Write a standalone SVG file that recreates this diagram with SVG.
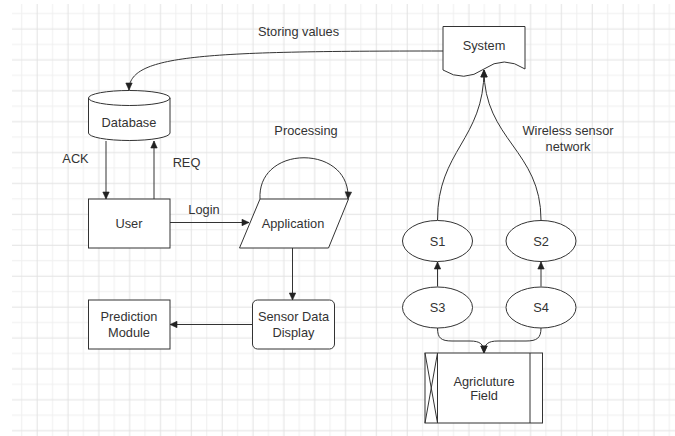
<svg xmlns="http://www.w3.org/2000/svg" width="675" height="436" viewBox="0 0 675 436">
  <defs>
    <!-- background grid: light minor lines, slightly darker every second line -->
    <pattern id="grid" patternUnits="userSpaceOnUse" x="13.99" y="5.775" width="30.84" height="30.9">
      <path d="M7.71,0 V30.9 M0,7.725 H30.84" stroke="#efefef" stroke-width="1" fill="none"/>
      <path d="M23.13,0 V30.9 M0,23.175 H30.84" stroke="#e2e2e2" stroke-width="1" fill="none"/>
    </pattern>
    <marker id="arrow" markerUnits="userSpaceOnUse" markerWidth="10" markerHeight="10" viewBox="0 0 10 10" refX="8" refY="5" orient="auto">
      <path d="M1,1.8 L8,5 L1,8.2 Z" fill="#222" stroke="#222" stroke-width="0.6"/>
    </marker>
  </defs>
  <style>
    .shape { fill: #ffffff; stroke: #333333; stroke-width: 1; }
    .edge { fill: none; stroke: #333333; stroke-width: 1; }
    text { font-family: "Liberation Sans", Arial, sans-serif; font-size: 12.8px; fill: #333333; text-anchor: middle; dominant-baseline: central; }
  </style>

  <rect x="0" y="0" width="675" height="436" fill="#ffffff"/>
  <rect x="12" y="4" width="663" height="432" fill="url(#grid)"/>

  <g id="connectors">
    <!-- System -> Database -->
    <path class="edge" d="M443,51 C200,51 129,55 129,90" marker-end="url(#arrow)"/>
    <!-- Database -> User (ACK) -->
    <path class="edge" d="M106,141 V199" marker-end="url(#arrow)"/>
    <!-- User -> Database (REQ) -->
    <path class="edge" d="M154,199 V141" marker-end="url(#arrow)"/>
    <!-- User -> Application (Login) -->
    <path class="edge" d="M170,222.5 H249" marker-end="url(#arrow)"/>
    <!-- Application processing loop -->
    <path class="edge" d="M260,199 C257,144 351,144 348,199" marker-end="url(#arrow)"/>
    <!-- Application -> Sensor Data Display -->
    <path class="edge" d="M292.5,248 V300" marker-end="url(#arrow)"/>
    <!-- Sensor Data Display -> Prediction Module -->
    <path class="edge" d="M252,324.5 H170" marker-end="url(#arrow)"/>
    <!-- S1 / S2 -> System (wireless sensor network) -->
    <path class="edge" d="M437.5,220 C437.5,150 484,140 484,70" marker-end="url(#arrow)"/>
    <path class="edge" d="M541,220 C541,150 484,140 484,70" marker-end="url(#arrow)"/>
    <!-- S3 -> S1, S4 -> S2 -->
    <path class="edge" d="M437.5,286.5 V262" marker-end="url(#arrow)"/>
    <path class="edge" d="M541,286.5 V262" marker-end="url(#arrow)"/>
    <!-- S3 / S4 -> Agriculture Field -->
    <path class="edge" d="M437.5,328 C437.5,338 441,341 452,341 L470,341 C480,341 484,344 484,353" marker-end="url(#arrow)"/>
    <path class="edge" d="M541,328 C541,338 537,341 526,341 L498,341 C488,341 484,344 484,353" marker-end="url(#arrow)"/>
  </g>

  <g id="labels">
    <text x="298.5" y="31.5">Storing values</text>
    <text x="306" y="130">Processing</text>
    <text x="75.5" y="158">ACK</text>
    <text x="186.5" y="162">REQ</text>
    <text x="204" y="209">Login</text>
    <text x="568" y="130">Wireless sensor</text>
    <text x="568" y="146">network</text>
  </g>

  <g id="system">
    <path class="shape" d="M443,26.5 H525 V69 Q504,55 484,69 Q464,83 443,70 Z"/>
    <text x="484" y="45">System</text>
  </g>

  <g id="database">
    <path class="shape" d="M88.5,98 A40.75,7.5 0 0 1 170,98 V133 A40.75,7.5 0 0 1 88.5,133 Z"/>
    <path class="edge" d="M88.5,98 A40.75,7.5 0 0 0 170,98"/>
    <text x="129" y="122">Database</text>
  </g>

  <g id="user">
    <rect class="shape" x="88.5" y="199" width="81.5" height="49"/>
    <text x="129" y="223">User</text>
  </g>

  <g id="application">
    <path class="shape" d="M260,199 H348.5 L328.5,248 H239.5 Z"/>
    <text x="293" y="223">Application</text>
  </g>

  <g id="sensor-data-display">
    <rect class="shape" x="252.5" y="300" width="82" height="49" rx="5" ry="5"/>
    <text x="293.5" y="316.5">Sensor Data</text>
    <text x="293.5" y="332.5">Display</text>
  </g>

  <g id="prediction-module">
    <rect class="shape" x="88.5" y="300" width="81.5" height="49"/>
    <text x="129" y="316.5">Prediction</text>
    <text x="129" y="332.5">Module</text>
  </g>

  <g id="s1">
    <ellipse class="shape" cx="437.5" cy="241" rx="35" ry="20.5"/>
    <text x="437.5" y="241">S1</text>
  </g>
  <g id="s2">
    <ellipse class="shape" cx="541" cy="241" rx="35" ry="20.5"/>
    <text x="541" y="241">S2</text>
  </g>
  <g id="s3">
    <ellipse class="shape" cx="437.5" cy="307.5" rx="35" ry="20.5"/>
    <text x="437.5" y="307.5">S3</text>
  </g>
  <g id="s4">
    <ellipse class="shape" cx="541" cy="307.5" rx="35" ry="20.5"/>
    <text x="541" y="307.5">S4</text>
  </g>

  <g id="agriculture-field">
    <rect class="shape" x="425" y="353" width="117.5" height="70"/>
    <path class="edge" d="M437.5,353 V423 M530,353 V423 M425,353 L437.5,423 M437.5,353 L425,423"/>
    <text x="484" y="381.5">Agricluture</text>
    <text x="484" y="395.5">Field</text>
  </g>
</svg>
